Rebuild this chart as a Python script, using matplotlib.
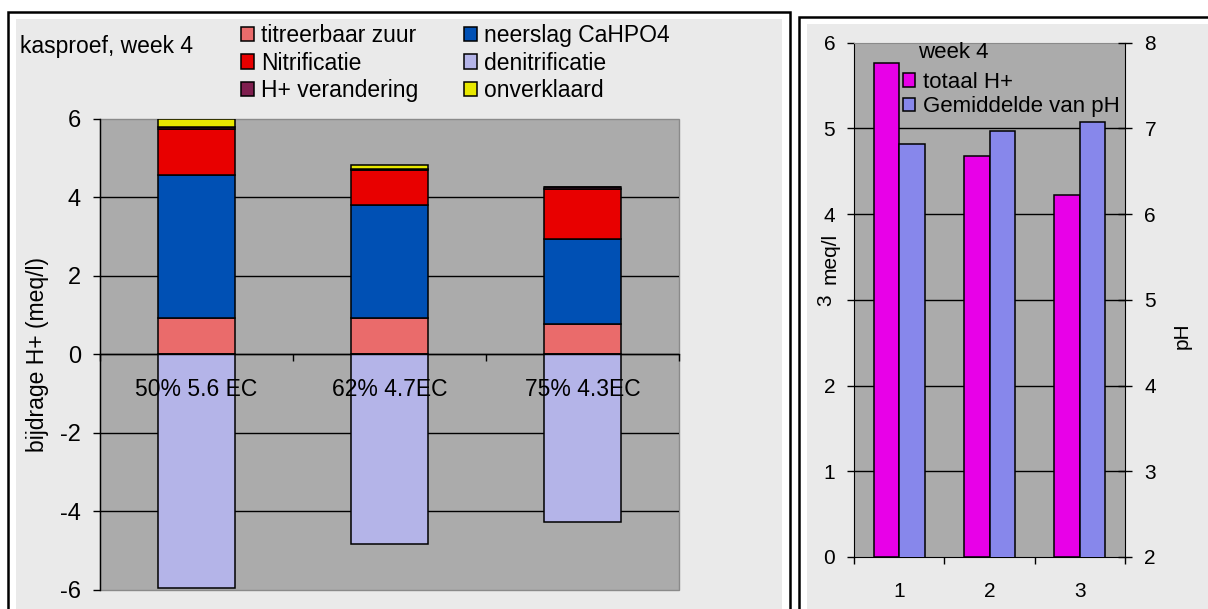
import numpy as np
import matplotlib
matplotlib.use("Agg")
import matplotlib.pyplot as plt
from matplotlib.patches import Rectangle

plt.rcParams['font.family'] = ['Liberation Sans', 'DejaVu Sans']
plt.rcParams['axes.unicode_minus'] = False

# left chart: contribution to H+ (meq/l), kasproef week 4
categories = ['50% 5.6 EC', '62% 4.7EC', '75% 4.3EC']
titreerbaar = [0.93, 0.92, 0.77]
neerslag = [3.63, 2.88, 2.17]
nitrificatie = [1.18, 0.89, 1.27]
denitrificatie = [-5.96, -4.82, -4.26]
h_verandering = [0.04, 0.03, 0.05]
onverklaard = [0.20, 0.10, 0.0]

# right chart: total H+ and mean pH per treatment
trials = ['1', '2', '3']
totaal_h = [5.76, 4.68, 4.22]
ph_mean = [6.82, 6.97, 7.08]

series = [
    ('titreerbaar zuur', titreerbaar, '#EA6B6B'),
    ('neerslag CaHPO4', neerslag, '#0050B4'),
    ('Nitrificatie', nitrificatie, '#E80000'),
    ('denitrificatie', denitrificatie, '#B4B4E8'),
    ('H+ verandering', h_verandering, '#7F1F4F'),
    ('onverklaard', onverklaard, '#E8E800'),
]

W, H = 1208, 609
fig = plt.figure(figsize=(W / 100, H / 100), dpi=100)


def px_rect(x0, y0, x1, y1, **kw):
    return Rectangle((x0 / W, 1 - y1 / H), (x1 - x0) / W, (y1 - y0) / H,
                     transform=fig.transFigure, **kw)


# panel frames
fig.patches.append(px_rect(8, 12, 790, 640, facecolor='white', edgecolor='black', lw=1.8, zorder=-3))
fig.patches.append(px_rect(16, 19, 782, 640, facecolor='#EAEAEA', edgecolor='none', zorder=-2))
fig.patches.append(px_rect(799, 17, 1240, 640, facecolor='white', edgecolor='black', lw=1.8, zorder=-3))
fig.patches.append(px_rect(807, 24, 1240, 640, facecolor='#EAEAEA', edgecolor='none', zorder=-2))

FS_L = 17      # left chart ticks
TXT_L = 16.5   # left chart texts
FS_R = 15      # right chart ticks
TXT_R = 16     # right chart texts
edge = dict(edgecolor='black', linewidth=1.1)

# ---------------- left chart ----------------
ax1 = fig.add_axes([99.6 / W, 1 - 590 / H, (679 - 99.6) / W, (590 - 118.7) / H])
ax1.set_facecolor('#ABABAB')
ax1.patch.set_edgecolor('#8A8A8A')
ax1.patch.set_linewidth(1)
ax1.set_axisbelow(True)

x = np.arange(len(categories))
pos_bottom = np.zeros(len(categories))
neg_bottom = np.zeros(len(categories))
handles = {}
for name, vals, col in series:
    v = np.array(vals)
    bottom = np.where(v >= 0, pos_bottom, neg_bottom)
    bars = ax1.bar(x, v, 0.40, bottom=bottom, color=col, label=name, **edge)
    handles[name] = bars
    pos_bottom += np.where(v >= 0, v, 0)
    neg_bottom += np.where(v < 0, v, 0)

ax1.set_xlim(-0.5, 2.5)
ax1.set_ylim(-6, 6)
ax1.set_yticks(range(-6, 7, 2))
ax1.yaxis.grid(True, color='black', linewidth=1)
glines = ax1.get_ygridlines()
glines[0].set_visible(False)
glines[-1].set_visible(False)
ax1.tick_params(axis='y', direction='out', length=5, width=1, pad=8.5, labelsize=FS_L)

ax1.spines['bottom'].set_position(('data', 0))
ax1.spines['top'].set_visible(False)
ax1.spines['right'].set_visible(False)
ax1.spines['left'].set_linewidth(1)
ax1.spines['bottom'].set_linewidth(1)
ax1.set_xticks([-0.5, 0.5, 1.5, 2.5])
ax1.set_xticklabels([])
ax1.tick_params(axis='x', which='major', direction='out', length=5, width=1)
# category names sit over the negative bars, so they are drawn as texts on top
for xi, cat in zip(x, categories):
    ax1.annotate(cat, (xi, 0), xytext=(0, -17), textcoords='offset points',
                 ha='center', va='top', fontsize=TXT_L, zorder=5)
ax1.set_ylabel('bijdrage H+ (meq/l)', fontsize=TXT_L, labelpad=8)

fig.text(20 / W, 1 - 46 / H, 'kasproef, week 4', fontsize=TXT_L, ha='left', va='center')

order = ['titreerbaar zuur', 'Nitrificatie', 'H+ verandering',
         'neerslag CaHPO4', 'denitrificatie', 'onverklaard']
fig.legend([handles[n] for n in order], order, ncol=2, loc='upper left',
           bbox_to_anchor=(241 / W, 1 - 24 / H), frameon=False, fontsize=TXT_L,
           borderpad=0, borderaxespad=0, handlelength=0.57, handleheight=0.57,
           handletextpad=0.3, labelspacing=0.2, columnspacing=2.0)

# ---------------- right chart ----------------
ax2 = fig.add_axes([854 / W, 1 - 557 / H, (1125 - 854) / W, (557 - 42.7) / H])
ax2.set_facecolor('#ABABAB')
ax2.set_axisbelow(True)
xr = np.arange(1, len(trials) + 1)
bw = 0.283
b1 = ax2.bar(xr - bw / 2, totaal_h, bw, color='#E800E8', label='totaal H+', **edge)
ax2.set_xlim(0.5, 3.5)
ax2.set_ylim(0, 6)
ax2.set_yticks(range(0, 7), labels=[str(t) for t in range(0, 7)])
ax2.yaxis.grid(True, color='black', linewidth=1)
glines = ax2.get_ygridlines()
glines[0].set_visible(False)
glines[-1].set_visible(False)
ax2.tick_params(axis='y', direction='out', length=5, width=1, pad=8.5, labelsize=FS_R)
ax2.set_xticks([0.5, 1.5, 2.5, 3.5])
ax2.set_xticklabels([])
ax2.set_xticks(xr, minor=True)
ax2.set_xticklabels(trials, minor=True)
ax2.tick_params(axis='x', which='major', direction='out', length=5, width=1)
ax2.tick_params(axis='x', which='minor', length=0, pad=18, labelsize=FS_R)
ax2.spines['top'].set_color('#8A8A8A')
ax2.spines['right'].set_visible(False)
lab3 = ax2.yaxis.get_major_ticks()[3].label1
lab3.set_rotation(90)
lab3.set_va('center')
ax2.set_ylabel('meq/l', fontsize=FS_R)
ax2.yaxis.set_label_coords(-0.09, 0.58)
ax2.yaxis.label.set_va('center')

ax2r = ax2.twinx()
b2 = ax2r.bar(xr + bw / 2, ph_mean, bw, color='#8787EB', label='Gemiddelde van pH', **edge)
ax2r.set_ylim(2, 8)
ax2r.set_yticks(range(2, 9))
ax2r.tick_params(axis='y', direction='inout', length=10, width=1, pad=9, labelsize=FS_R)
for s in ['left', 'top', 'bottom']:
    ax2r.spines[s].set_visible(False)
ax2r.set_ylabel('pH', fontsize=FS_R)
ax2r.yaxis.set_label_coords(1.21, 0.43)
ax2r.yaxis.label.set_va('center')

fig.text(918 / W, 1 - 53 / H, 'week 4', fontsize=TXT_R, ha='left', va='center')
fig.legend([b1, b2], ['totaal H+', 'Gemiddelde van pH'], loc='upper left',
           bbox_to_anchor=(903 / W, 1 - 72 / H), frameon=False, fontsize=TXT_R,
           borderpad=0, borderaxespad=0, handlelength=0.55, handleheight=0.55,
           handletextpad=0.35, labelspacing=0.15)

fig.savefig('out.png', dpi=100)
